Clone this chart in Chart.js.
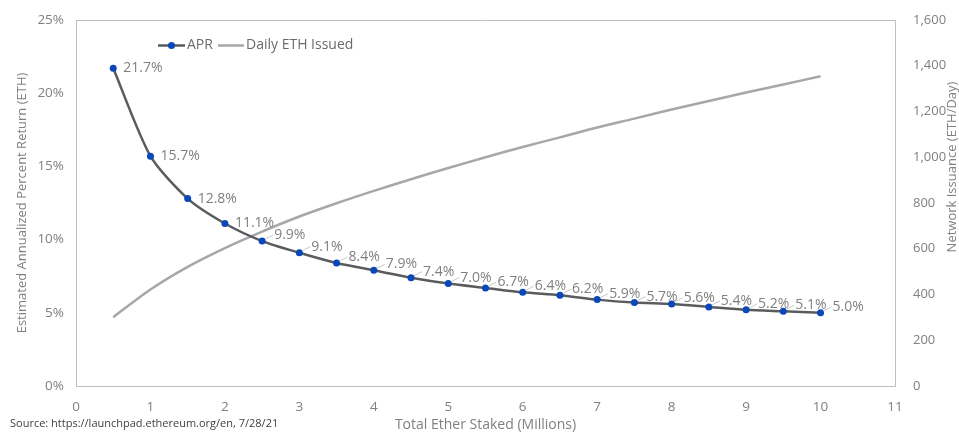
<!DOCTYPE html>
<html>
<head>
<meta charset="utf-8">
<script src="https://cdn.jsdelivr.net/npm/chart.js@4.4.1/dist/chart.umd.min.js"></script>
<style>
  html, body { margin: 0; padding: 0; background: #ffffff; }
  #wrap { width: 959px; height: 435px; position: relative; }
</style>
</head>
<body>
<div id="wrap"><canvas id="c" width="959" height="435"></canvas></div>
<script>
// Total ether staked (millions)
const staked = [0.5, 1, 1.5, 2, 2.5, 3, 3.5, 4, 4.5, 5, 5.5, 6, 6.5, 7, 7.5, 8, 8.5, 9, 9.5, 10];
// Estimated APR (%)
const aprValues = [21.7, 15.7, 12.8, 11.1, 9.9, 9.1, 8.4, 7.9, 7.4, 7.0, 6.7, 6.4, 6.2, 5.9, 5.7, 5.6, 5.4, 5.2, 5.1, 5.0];
// Daily ETH issued (ETH/day)
const dailyIssued = [301, 422, 521, 603, 675, 741, 799, 853, 904, 953, 1000, 1045, 1087, 1130, 1169, 1209, 1246, 1283, 1318, 1354];

const xTicks = [0, 1, 2, 3, 4, 5, 6, 7, 8, 9, 10, 11];
const seriesNames = ['APR', 'Daily ETH Issued'];
const xTitle = 'Total Ether Staked (Millions)';
const yLeftTitle = 'Estimated Annualized Percent Return (ETH)';
const yRightTitle = 'Network Issuance (ETH/Day)';
const sourceNote = 'Source: https://launchpad.ethereum.org/en, 7/28/21';

const FONT = "'Open Sans', 'Noto Sans', sans-serif";
const TICK = '#808080';
const AXIS = '#bfbfbf';
const APR_LINE = '#595b5e';
const APR_DOT = '#0a47b8';
const ISSUE_LINE = '#a5a8ab';

const aprPoints = staked.map((x, i) => ({ x, y: aprValues[i] }));
const issuePoints = staked.map((x, i) => ({ x, y: dailyIssued[i] }));

// vertical axes: fixed width, and no extra top/bottom room for end labels
const fixVertical = w => s => { s.width = w; s.paddingTop = 0; s.paddingBottom = 0; };

// Value labels beside each APR point, legend, right-hand title, source note and top border
const extras = {
  id: 'extras',
  afterDatasetsDraw(chart) {
    const ctx = chart.ctx;
    const meta = chart.getDatasetMeta(1);
    ctx.save();
    ctx.font = '14px ' + FONT;
    ctx.textBaseline = 'middle';
    ctx.textAlign = 'left';
    meta.data.forEach((pt, i) => {
      const label = aprValues[i].toFixed(1) + '%';
      let dx = 10, dy = 0;
      if (i >= 4) { dx = 12; dy = -6; }
      if (i >= 4) {
        ctx.strokeStyle = '#c8c8c8';
        ctx.lineWidth = 1;
        ctx.beginPath();
        ctx.moveTo(pt.x + 3, pt.y - 2);
        ctx.lineTo(pt.x + dx - 1, pt.y + dy);
        ctx.stroke();
      }
      ctx.fillStyle = TICK;
      ctx.fillText(label, pt.x + dx, pt.y + dy);
    });
    ctx.restore();
  },
  afterDraw(chart) {
    const ctx = chart.ctx;
    const a = chart.chartArea;
    ctx.save();
    // top border of the plot box
    ctx.strokeStyle = AXIS;
    ctx.lineWidth = 1;
    ctx.beginPath();
    ctx.moveTo(a.left, a.top + 0.5);
    ctx.lineTo(a.right, a.top + 0.5);
    ctx.stroke();

    // legend
    const ly = 45.5;
    ctx.lineWidth = 2.5;
    ctx.strokeStyle = APR_LINE;
    ctx.beginPath(); ctx.moveTo(158, ly); ctx.lineTo(185, ly); ctx.stroke();
    ctx.fillStyle = APR_DOT;
    ctx.beginPath(); ctx.arc(171.5, ly, 3.5, 0, Math.PI * 2); ctx.fill();
    ctx.strokeStyle = ISSUE_LINE;
    ctx.beginPath(); ctx.moveTo(218, ly); ctx.lineTo(244, ly); ctx.stroke();
    ctx.font = '14px ' + FONT;
    ctx.fillStyle = '#6b6b6b';
    ctx.textBaseline = 'middle';
    ctx.textAlign = 'left';
    ctx.fillText(seriesNames[0], 187, ly);
    ctx.fillText(seriesNames[1], 246, ly);

    // right axis title
    ctx.save();
    ctx.translate(952, 167);
    ctx.rotate(-Math.PI / 2);
    ctx.textAlign = 'center';
    ctx.font = '13px ' + FONT;
    ctx.fillStyle = TICK;
    ctx.fillText(yRightTitle, 0, 0);
    ctx.restore();

    // source note
    ctx.font = '11px ' + FONT;
    ctx.fillStyle = '#404040';
    ctx.textAlign = 'left';
    ctx.fillText(sourceNote, 10, 424);
    ctx.restore();
  }
};

new Chart(document.getElementById('c'), {
  type: 'line',
  data: {
    datasets: [
      {
        label: seriesNames[1],
        data: issuePoints,
        yAxisID: 'y2',
        borderColor: ISSUE_LINE,
        borderWidth: 2.5,
        pointRadius: 0,
        tension: 0.3,
        order: 2
      },
      {
        label: seriesNames[0],
        data: aprPoints,
        yAxisID: 'y',
        borderColor: APR_LINE,
        borderWidth: 2.5,
        pointRadius: 3.5,
        pointBackgroundColor: APR_DOT,
        pointBorderColor: APR_DOT,
        pointBorderWidth: 0,
        tension: 0.25,
        order: 1
      }
    ]
  },
  options: {
    responsive: false,
    animation: false,
    events: [],
    layout: { padding: { top: 20, left: 0, right: 0, bottom: 0 } },
    plugins: { legend: { display: false }, tooltip: { enabled: false } },
    scales: {
      x: {
        type: 'linear',
        min: 0, max: 11,
        afterBuildTicks: s => { s.ticks = xTicks.map(v => ({ value: v })); },
        afterFit: s => { s.height = 49; },
        grid: { display: false, drawTicks: false },
        border: { display: true, color: AXIS, width: 1 },
        ticks: { color: TICK, font: { family: FONT, size: 13.5 }, padding: 13, maxRotation: 0 },
        title: { display: true, text: xTitle, color: TICK, font: { family: FONT, size: 14 }, padding: { bottom: 2 } }
      },
      y: {
        position: 'left',
        min: 0, max: 25,
        afterFit: fixVertical(76),
        grid: { display: false, drawTicks: false },
        border: { display: true, color: AXIS, width: 1 },
        ticks: { stepSize: 5, color: TICK, font: { family: FONT, size: 13.5 }, padding: 12, callback: v => v + '%' },
        title: { display: true, text: yLeftTitle, color: TICK, font: { family: FONT, size: 13 }, padding: { top: 14 } }
      },
      y2: {
        position: 'right',
        min: 0, max: 1600,
        afterFit: fixVertical(64),
        grid: { display: false, drawTicks: false },
        border: { display: true, color: AXIS, width: 1 },
        ticks: { stepSize: 200, color: TICK, font: { family: FONT, size: 13 }, padding: 18, callback: v => v.toLocaleString('en-US') }
      }
    }
  },
  plugins: [extras]
});
</script>
</body>
</html>
